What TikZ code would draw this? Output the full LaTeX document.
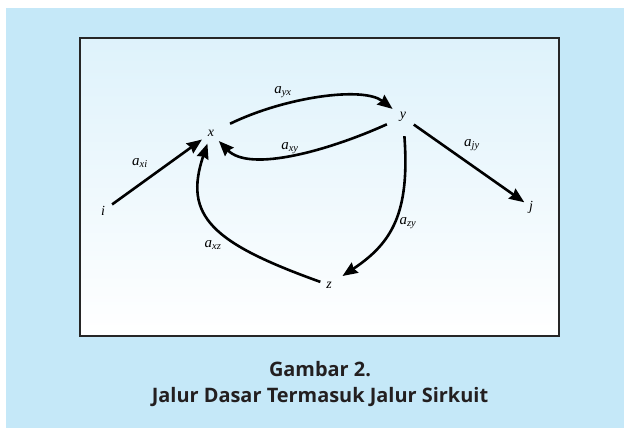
\documentclass[tikz,border=0pt]{standalone}
\usepackage{fontspec}
\setmainfont{Liberation Serif}
\newfontfamily\capfont{Open Sans}
\usepackage{xcolor}
\usepackage{tikz}
\usetikzlibrary{arrows.meta}
\definecolor{panelblue}{RGB}{197,232,248}
\definecolor{boxtop}{RGB}{222,242,251}
\definecolor{captext}{RGB}{35,31,32}
\tikzset{
  var/.style={circle, inner sep=0pt, minimum size=22bp, font=\fontsize{14}{16}\selectfont\itshape},
  lbl/.style={inner sep=0pt, font=\fontsize{15}{17}\selectfont\itshape},
  path arrow/.style={line width=2.6bp, -{Stealth[length=15bp,width=12bp,inset=1.5bp]}}
}

\begin{document}
\begin{tikzpicture}[x=1bp, y=1bp]
		\useasboundingbox (0,0) rectangle (624,428);
		\fill[white] (0,0) rectangle (624,428);
		\fill[panelblue] (6,0) rectangle (624,420);
		\shade[top color=boxtop, bottom color=white] (80,92) rectangle (559,390);
		\draw[black!85, line width=1.3bp] (80,92) rectangle (559,390);
		%
		\node[var] (i) at (103,217) {i};
		\node[var] (x) at (211,295) {x};
		\node[var, minimum size=26bp] (y) at (403,311) {y};
		\node[var, minimum size=16bp] (j) at (531,221) {j};
		\node[var, minimum size=18bp] (z) at (329,143) {z};
		%
		\draw[path arrow] (i) -- (x);
		\draw[path arrow, shorten <=10bp] (x) .. controls (285,331) and (363,342) .. (y);
		\draw[path arrow, shorten <=4.5bp] (y) .. controls (330,278) and (250,255) .. (x);
		\draw[path arrow] (y) -- (j);
		\draw[path arrow, shorten <=6bp, shorten >=7bp] (y) .. controls (410,215) and (392,185) .. (z);
		\draw[path arrow] (z) .. controls (212,185) and (183,212) .. (x);
		%
		\node[lbl] (l-yx) at (283,336) {a\textsubscript{yx}};
		\node[lbl] (l-xy) at (290,280) {a\textsubscript{xy}};
		\node[lbl] (l-xi) at (140,265) {a\textsubscript{xi}};
		\node[lbl] (l-jy) at (472,283) {a\textsubscript{jy}};
		\node[lbl] (l-zy) at (408,205) {a\textsubscript{zy}};
		\node[lbl] (l-xz) at (213,183) {a\textsubscript{xz}};
		%
		\node[align=center, text=captext, font=\capfont\bfseries\fontsize{20}{27}\selectfont] (cap) at (320,44) {Gambar 2.\\Jalur Dasar Termasuk Jalur Sirkuit};
	\end{tikzpicture}
\end{document}
